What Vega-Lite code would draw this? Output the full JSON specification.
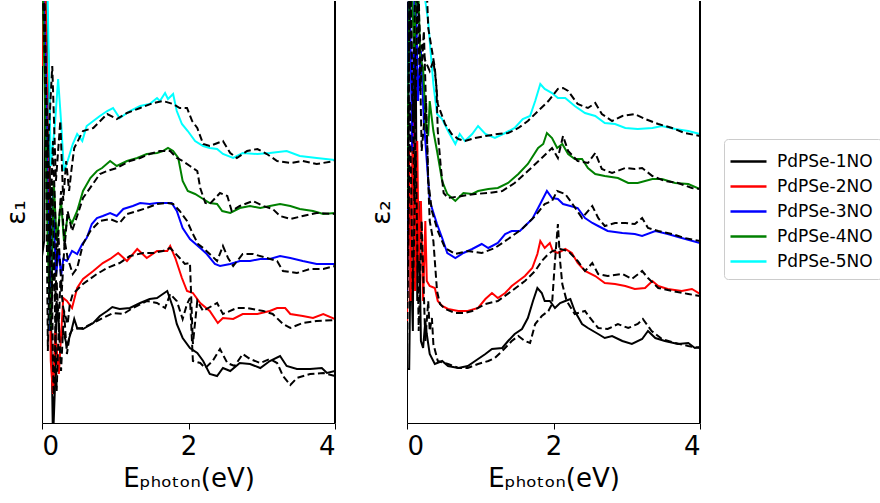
{
"$schema": "https://vega.github.io/schema/vega-lite/v6.json",
"background": "white",
"padding": {"left": 3, "top": 0, "right": 0, "bottom": 0},
"bounds": "flush",
"spacing": 72,
"config": {"font": "DejaVu Sans", "view": {"stroke": null}},
"datasets": {
"d": [
{"p":1,"s":"PdPSe-1NO","k":"s","E":0,"v":167},{"p":1,"s":"PdPSe-1NO","k":"s","E":0.03,"v":182},{"p":1,"s":"PdPSe-1NO","k":"s","E":0.05,"v":472},{"p":1,"s":"PdPSe-1NO","k":"s","E":0.10,"v":322},{"p":1,"s":"PdPSe-1NO","k":"s","E":0.12,"v":122},{"p":1,"s":"PdPSe-1NO","k":"s","E":0.15,"v":-18},{"p":1,"s":"PdPSe-1NO","k":"s","E":0.18,"v":42},{"p":1,"s":"PdPSe-1NO","k":"s","E":0.20,"v":122},{"p":1,"s":"PdPSe-1NO","k":"s","E":0.25,"v":82},{"p":1,"s":"PdPSe-1NO","k":"s","E":0.29,"v":92},{"p":1,"s":"PdPSe-1NO","k":"s","E":0.34,"v":77},{"p":1,"s":"PdPSe-1NO","k":"s","E":0.40,"v":92},{"p":1,"s":"PdPSe-1NO","k":"s","E":0.44,"v":104},{"p":1,"s":"PdPSe-1NO","k":"s","E":0.48,"v":95},{"p":1,"s":"PdPSe-1NO","k":"s","E":0.56,"v":94},{"p":1,"s":"PdPSe-1NO","k":"s","E":0.70,"v":100},{"p":1,"s":"PdPSe-1NO","k":"s","E":0.79,"v":107},{"p":1,"s":"PdPSe-1NO","k":"s","E":0.89,"v":112},{"p":1,"s":"PdPSe-1NO","k":"s","E":0.96,"v":116},{"p":1,"s":"PdPSe-1NO","k":"s","E":1.06,"v":114},{"p":1,"s":"PdPSe-1NO","k":"s","E":1.20,"v":115},{"p":1,"s":"PdPSe-1NO","k":"s","E":1.34,"v":120},{"p":1,"s":"PdPSe-1NO","k":"s","E":1.47,"v":124},{"p":1,"s":"PdPSe-1NO","k":"s","E":1.57,"v":125},{"p":1,"s":"PdPSe-1NO","k":"s","E":1.65,"v":129},{"p":1,"s":"PdPSe-1NO","k":"s","E":1.71,"v":132},{"p":1,"s":"PdPSe-1NO","k":"s","E":1.79,"v":115},{"p":1,"s":"PdPSe-1NO","k":"s","E":1.84,"v":99},{"p":1,"s":"PdPSe-1NO","k":"s","E":1.92,"v":85},{"p":1,"s":"PdPSe-1NO","k":"s","E":2.02,"v":75},{"p":1,"s":"PdPSe-1NO","k":"s","E":2.12,"v":70},{"p":1,"s":"PdPSe-1NO","k":"s","E":2.20,"v":62},{"p":1,"s":"PdPSe-1NO","k":"s","E":2.29,"v":49},{"p":1,"s":"PdPSe-1NO","k":"s","E":2.39,"v":47},{"p":1,"s":"PdPSe-1NO","k":"s","E":2.47,"v":55},{"p":1,"s":"PdPSe-1NO","k":"s","E":2.57,"v":52},{"p":1,"s":"PdPSe-1NO","k":"s","E":2.70,"v":60},{"p":1,"s":"PdPSe-1NO","k":"s","E":2.84,"v":59},{"p":1,"s":"PdPSe-1NO","k":"s","E":2.98,"v":55},{"p":1,"s":"PdPSe-1NO","k":"s","E":3.11,"v":62},{"p":1,"s":"PdPSe-1NO","k":"s","E":3.25,"v":67},{"p":1,"s":"PdPSe-1NO","k":"s","E":3.34,"v":57},{"p":1,"s":"PdPSe-1NO","k":"s","E":3.48,"v":54},{"p":1,"s":"PdPSe-1NO","k":"s","E":3.66,"v":54},{"p":1,"s":"PdPSe-1NO","k":"s","E":3.82,"v":55},{"p":1,"s":"PdPSe-1NO","k":"s","E":3.89,"v":50},{"p":1,"s":"PdPSe-1NO","k":"s","E":4.00,"v":52},

{"p":1,"s":"PdPSe-1NO","k":"d","E":0,"v":472},{"p":1,"s":"PdPSe-1NO","k":"d","E":0.04,"v":402},{"p":1,"s":"PdPSe-1NO","k":"d","E":0.08,"v":72},{"p":1,"s":"PdPSe-1NO","k":"d","E":0.12,"v":222},{"p":1,"s":"PdPSe-1NO","k":"d","E":0.16,"v":12},{"p":1,"s":"PdPSe-1NO","k":"d","E":0.20,"v":142},{"p":1,"s":"PdPSe-1NO","k":"d","E":0.26,"v":52},{"p":1,"s":"PdPSe-1NO","k":"d","E":0.30,"v":112},{"p":1,"s":"PdPSe-1NO","k":"d","E":0.34,"v":69},{"p":1,"s":"PdPSe-1NO","k":"d","E":0.38,"v":89},{"p":1,"s":"PdPSe-1NO","k":"d","E":0.42,"v":94},{"p":1,"s":"PdPSe-1NO","k":"d","E":0.56,"v":95},{"p":1,"s":"PdPSe-1NO","k":"d","E":0.75,"v":102},{"p":1,"s":"PdPSe-1NO","k":"d","E":0.97,"v":110},{"p":1,"s":"PdPSe-1NO","k":"d","E":1.11,"v":109},{"p":1,"s":"PdPSe-1NO","k":"d","E":1.24,"v":115},{"p":1,"s":"PdPSe-1NO","k":"d","E":1.43,"v":122},{"p":1,"s":"PdPSe-1NO","k":"d","E":1.57,"v":120},{"p":1,"s":"PdPSe-1NO","k":"d","E":1.68,"v":115},{"p":1,"s":"PdPSe-1NO","k":"d","E":1.75,"v":129},{"p":1,"s":"PdPSe-1NO","k":"d","E":1.84,"v":122},{"p":1,"s":"PdPSe-1NO","k":"d","E":1.92,"v":104},{"p":1,"s":"PdPSe-1NO","k":"d","E":1.98,"v":119},{"p":1,"s":"PdPSe-1NO","k":"d","E":2.02,"v":125},{"p":1,"s":"PdPSe-1NO","k":"d","E":2.06,"v":62},{"p":1,"s":"PdPSe-1NO","k":"d","E":2.16,"v":60},{"p":1,"s":"PdPSe-1NO","k":"d","E":2.23,"v":55},{"p":1,"s":"PdPSe-1NO","k":"d","E":2.33,"v":62},{"p":1,"s":"PdPSe-1NO","k":"d","E":2.43,"v":74},{"p":1,"s":"PdPSe-1NO","k":"d","E":2.53,"v":60},{"p":1,"s":"PdPSe-1NO","k":"d","E":2.63,"v":57},{"p":1,"s":"PdPSe-1NO","k":"d","E":2.74,"v":69},{"p":1,"s":"PdPSe-1NO","k":"d","E":2.84,"v":64},{"p":1,"s":"PdPSe-1NO","k":"d","E":2.98,"v":60},{"p":1,"s":"PdPSe-1NO","k":"d","E":3.11,"v":64},{"p":1,"s":"PdPSe-1NO","k":"d","E":3.21,"v":60},{"p":1,"s":"PdPSe-1NO","k":"d","E":3.29,"v":47},{"p":1,"s":"PdPSe-1NO","k":"d","E":3.39,"v":38},{"p":1,"s":"PdPSe-1NO","k":"d","E":3.48,"v":45},{"p":1,"s":"PdPSe-1NO","k":"d","E":3.66,"v":49},{"p":1,"s":"PdPSe-1NO","k":"d","E":3.84,"v":50},{"p":1,"s":"PdPSe-1NO","k":"d","E":4.00,"v":47},

{"p":1,"s":"PdPSe-2NO","k":"s","E":0,"v":357},{"p":1,"s":"PdPSe-2NO","k":"s","E":0.04,"v":472},{"p":1,"s":"PdPSe-2NO","k":"s","E":0.08,"v":272},{"p":1,"s":"PdPSe-2NO","k":"s","E":0.12,"v":62},{"p":1,"s":"PdPSe-2NO","k":"s","E":0.15,"v":29},{"p":1,"s":"PdPSe-2NO","k":"s","E":0.18,"v":92},{"p":1,"s":"PdPSe-2NO","k":"s","E":0.20,"v":75},{"p":1,"s":"PdPSe-2NO","k":"s","E":0.23,"v":49},{"p":1,"s":"PdPSe-2NO","k":"s","E":0.29,"v":125},{"p":1,"s":"PdPSe-2NO","k":"s","E":0.34,"v":122},{"p":1,"s":"PdPSe-2NO","k":"s","E":0.41,"v":115},{"p":1,"s":"PdPSe-2NO","k":"s","E":0.48,"v":135},{"p":1,"s":"PdPSe-2NO","k":"s","E":0.56,"v":144},{"p":1,"s":"PdPSe-2NO","k":"s","E":0.70,"v":152},{"p":1,"s":"PdPSe-2NO","k":"s","E":0.83,"v":160},{"p":1,"s":"PdPSe-2NO","k":"s","E":0.93,"v":164},{"p":1,"s":"PdPSe-2NO","k":"s","E":1.04,"v":170},{"p":1,"s":"PdPSe-2NO","k":"s","E":1.16,"v":162},{"p":1,"s":"PdPSe-2NO","k":"s","E":1.30,"v":174},{"p":1,"s":"PdPSe-2NO","k":"s","E":1.43,"v":165},{"p":1,"s":"PdPSe-2NO","k":"s","E":1.57,"v":172},{"p":1,"s":"PdPSe-2NO","k":"s","E":1.71,"v":172},{"p":1,"s":"PdPSe-2NO","k":"s","E":1.75,"v":177},{"p":1,"s":"PdPSe-2NO","k":"s","E":1.82,"v":165},{"p":1,"s":"PdPSe-2NO","k":"s","E":1.91,"v":145},{"p":1,"s":"PdPSe-2NO","k":"s","E":1.98,"v":132},{"p":1,"s":"PdPSe-2NO","k":"s","E":2.06,"v":130},{"p":1,"s":"PdPSe-2NO","k":"s","E":2.16,"v":120},{"p":1,"s":"PdPSe-2NO","k":"s","E":2.29,"v":112},{"p":1,"s":"PdPSe-2NO","k":"s","E":2.40,"v":100},{"p":1,"s":"PdPSe-2NO","k":"s","E":2.47,"v":105},{"p":1,"s":"PdPSe-2NO","k":"s","E":2.61,"v":104},{"p":1,"s":"PdPSe-2NO","k":"s","E":2.74,"v":109},{"p":1,"s":"PdPSe-2NO","k":"s","E":2.94,"v":109},{"p":1,"s":"PdPSe-2NO","k":"s","E":3.11,"v":112},{"p":1,"s":"PdPSe-2NO","k":"s","E":3.21,"v":115},{"p":1,"s":"PdPSe-2NO","k":"s","E":3.32,"v":115},{"p":1,"s":"PdPSe-2NO","k":"s","E":3.39,"v":109},{"p":1,"s":"PdPSe-2NO","k":"s","E":3.56,"v":107},{"p":1,"s":"PdPSe-2NO","k":"s","E":3.70,"v":105},{"p":1,"s":"PdPSe-2NO","k":"s","E":3.84,"v":109},{"p":1,"s":"PdPSe-2NO","k":"s","E":4.00,"v":104},

{"p":1,"s":"PdPSe-2NO","k":"d","E":0,"v":472},{"p":1,"s":"PdPSe-2NO","k":"d","E":0.04,"v":412},{"p":1,"s":"PdPSe-2NO","k":"d","E":0.08,"v":222},{"p":1,"s":"PdPSe-2NO","k":"d","E":0.12,"v":92},{"p":1,"s":"PdPSe-2NO","k":"d","E":0.16,"v":172},{"p":1,"s":"PdPSe-2NO","k":"d","E":0.20,"v":32},{"p":1,"s":"PdPSe-2NO","k":"d","E":0.25,"v":142},{"p":1,"s":"PdPSe-2NO","k":"d","E":0.29,"v":115},{"p":1,"s":"PdPSe-2NO","k":"d","E":0.35,"v":99},{"p":1,"s":"PdPSe-2NO","k":"d","E":0.38,"v":119},{"p":1,"s":"PdPSe-2NO","k":"d","E":0.42,"v":129},{"p":1,"s":"PdPSe-2NO","k":"d","E":0.56,"v":139},{"p":1,"s":"PdPSe-2NO","k":"d","E":0.75,"v":149},{"p":1,"s":"PdPSe-2NO","k":"d","E":0.89,"v":155},{"p":1,"s":"PdPSe-2NO","k":"d","E":1.06,"v":160},{"p":1,"s":"PdPSe-2NO","k":"d","E":1.20,"v":167},{"p":1,"s":"PdPSe-2NO","k":"d","E":1.38,"v":170},{"p":1,"s":"PdPSe-2NO","k":"d","E":1.52,"v":170},{"p":1,"s":"PdPSe-2NO","k":"d","E":1.65,"v":172},{"p":1,"s":"PdPSe-2NO","k":"d","E":1.75,"v":175},{"p":1,"s":"PdPSe-2NO","k":"d","E":1.88,"v":165},{"p":1,"s":"PdPSe-2NO","k":"d","E":1.95,"v":159},{"p":1,"s":"PdPSe-2NO","k":"d","E":2.02,"v":160},{"p":1,"s":"PdPSe-2NO","k":"d","E":2.06,"v":79},{"p":1,"s":"PdPSe-2NO","k":"d","E":2.12,"v":122},{"p":1,"s":"PdPSe-2NO","k":"d","E":2.20,"v":112},{"p":1,"s":"PdPSe-2NO","k":"d","E":2.39,"v":120},{"p":1,"s":"PdPSe-2NO","k":"d","E":2.47,"v":109},{"p":1,"s":"PdPSe-2NO","k":"d","E":2.66,"v":115},{"p":1,"s":"PdPSe-2NO","k":"d","E":2.80,"v":115},{"p":1,"s":"PdPSe-2NO","k":"d","E":3.02,"v":112},{"p":1,"s":"PdPSe-2NO","k":"d","E":3.15,"v":109},{"p":1,"s":"PdPSe-2NO","k":"d","E":3.29,"v":99},{"p":1,"s":"PdPSe-2NO","k":"d","E":3.39,"v":95},{"p":1,"s":"PdPSe-2NO","k":"d","E":3.56,"v":100},{"p":1,"s":"PdPSe-2NO","k":"d","E":3.75,"v":102},{"p":1,"s":"PdPSe-2NO","k":"d","E":4.00,"v":103},

{"p":1,"s":"PdPSe-3NO","k":"s","E":0,"v":472},{"p":1,"s":"PdPSe-3NO","k":"s","E":0.05,"v":362},{"p":1,"s":"PdPSe-3NO","k":"s","E":0.11,"v":92},{"p":1,"s":"PdPSe-3NO","k":"s","E":0.15,"v":232},{"p":1,"s":"PdPSe-3NO","k":"s","E":0.19,"v":147},{"p":1,"s":"PdPSe-3NO","k":"s","E":0.23,"v":172},{"p":1,"s":"PdPSe-3NO","k":"s","E":0.26,"v":147},{"p":1,"s":"PdPSe-3NO","k":"s","E":0.29,"v":164},{"p":1,"s":"PdPSe-3NO","k":"s","E":0.34,"v":162},{"p":1,"s":"PdPSe-3NO","k":"s","E":0.41,"v":172},{"p":1,"s":"PdPSe-3NO","k":"s","E":0.48,"v":169},{"p":1,"s":"PdPSe-3NO","k":"s","E":0.55,"v":179},{"p":1,"s":"PdPSe-3NO","k":"s","E":0.61,"v":185},{"p":1,"s":"PdPSe-3NO","k":"s","E":0.68,"v":199},{"p":1,"s":"PdPSe-3NO","k":"s","E":0.75,"v":205},{"p":1,"s":"PdPSe-3NO","k":"s","E":0.83,"v":207},{"p":1,"s":"PdPSe-3NO","k":"s","E":0.93,"v":210},{"p":1,"s":"PdPSe-3NO","k":"s","E":1.02,"v":207},{"p":1,"s":"PdPSe-3NO","k":"s","E":1.11,"v":214},{"p":1,"s":"PdPSe-3NO","k":"s","E":1.24,"v":217},{"p":1,"s":"PdPSe-3NO","k":"s","E":1.34,"v":220},{"p":1,"s":"PdPSe-3NO","k":"s","E":1.47,"v":219},{"p":1,"s":"PdPSe-3NO","k":"s","E":1.57,"v":220},{"p":1,"s":"PdPSe-3NO","k":"s","E":1.65,"v":220},{"p":1,"s":"PdPSe-3NO","k":"s","E":1.77,"v":220},{"p":1,"s":"PdPSe-3NO","k":"s","E":1.84,"v":212},{"p":1,"s":"PdPSe-3NO","k":"s","E":1.92,"v":195},{"p":1,"s":"PdPSe-3NO","k":"s","E":2.02,"v":184},{"p":1,"s":"PdPSe-3NO","k":"s","E":2.16,"v":175},{"p":1,"s":"PdPSe-3NO","k":"s","E":2.25,"v":169},{"p":1,"s":"PdPSe-3NO","k":"s","E":2.36,"v":159},{"p":1,"s":"PdPSe-3NO","k":"s","E":2.43,"v":157},{"p":1,"s":"PdPSe-3NO","k":"s","E":2.57,"v":159},{"p":1,"s":"PdPSe-3NO","k":"s","E":2.70,"v":162},{"p":1,"s":"PdPSe-3NO","k":"s","E":2.84,"v":162},{"p":1,"s":"PdPSe-3NO","k":"s","E":2.98,"v":164},{"p":1,"s":"PdPSe-3NO","k":"s","E":3.11,"v":164},{"p":1,"s":"PdPSe-3NO","k":"s","E":3.25,"v":167},{"p":1,"s":"PdPSe-3NO","k":"s","E":3.39,"v":165},{"p":1,"s":"PdPSe-3NO","k":"s","E":3.56,"v":162},{"p":1,"s":"PdPSe-3NO","k":"s","E":3.75,"v":159},{"p":1,"s":"PdPSe-3NO","k":"s","E":4.00,"v":159},

{"p":1,"s":"PdPSe-3NO","k":"d","E":0,"v":472},{"p":1,"s":"PdPSe-3NO","k":"d","E":0.04,"v":372},{"p":1,"s":"PdPSe-3NO","k":"d","E":0.10,"v":172},{"p":1,"s":"PdPSe-3NO","k":"d","E":0.14,"v":242},{"p":1,"s":"PdPSe-3NO","k":"d","E":0.18,"v":122},{"p":1,"s":"PdPSe-3NO","k":"d","E":0.22,"v":192},{"p":1,"s":"PdPSe-3NO","k":"d","E":0.27,"v":132},{"p":1,"s":"PdPSe-3NO","k":"d","E":0.31,"v":182},{"p":1,"s":"PdPSe-3NO","k":"d","E":0.35,"v":165},{"p":1,"s":"PdPSe-3NO","k":"d","E":0.42,"v":149},{"p":1,"s":"PdPSe-3NO","k":"d","E":0.48,"v":155},{"p":1,"s":"PdPSe-3NO","k":"d","E":0.56,"v":179},{"p":1,"s":"PdPSe-3NO","k":"d","E":0.66,"v":192},{"p":1,"s":"PdPSe-3NO","k":"d","E":0.79,"v":202},{"p":1,"s":"PdPSe-3NO","k":"d","E":0.93,"v":204},{"p":1,"s":"PdPSe-3NO","k":"d","E":1.06,"v":200},{"p":1,"s":"PdPSe-3NO","k":"d","E":1.16,"v":209},{"p":1,"s":"PdPSe-3NO","k":"d","E":1.30,"v":212},{"p":1,"s":"PdPSe-3NO","k":"d","E":1.43,"v":215},{"p":1,"s":"PdPSe-3NO","k":"d","E":1.57,"v":219},{"p":1,"s":"PdPSe-3NO","k":"d","E":1.71,"v":220},{"p":1,"s":"PdPSe-3NO","k":"d","E":1.79,"v":219},{"p":1,"s":"PdPSe-3NO","k":"d","E":1.88,"v":212},{"p":1,"s":"PdPSe-3NO","k":"d","E":1.98,"v":202},{"p":1,"s":"PdPSe-3NO","k":"d","E":2.06,"v":189},{"p":1,"s":"PdPSe-3NO","k":"d","E":2.13,"v":179},{"p":1,"s":"PdPSe-3NO","k":"d","E":2.20,"v":175},{"p":1,"s":"PdPSe-3NO","k":"d","E":2.29,"v":169},{"p":1,"s":"PdPSe-3NO","k":"d","E":2.39,"v":162},{"p":1,"s":"PdPSe-3NO","k":"d","E":2.47,"v":177},{"p":1,"s":"PdPSe-3NO","k":"d","E":2.54,"v":165},{"p":1,"s":"PdPSe-3NO","k":"d","E":2.61,"v":157},{"p":1,"s":"PdPSe-3NO","k":"d","E":2.74,"v":169},{"p":1,"s":"PdPSe-3NO","k":"d","E":2.88,"v":169},{"p":1,"s":"PdPSe-3NO","k":"d","E":3.07,"v":165},{"p":1,"s":"PdPSe-3NO","k":"d","E":3.21,"v":162},{"p":1,"s":"PdPSe-3NO","k":"d","E":3.29,"v":152},{"p":1,"s":"PdPSe-3NO","k":"d","E":3.48,"v":150},{"p":1,"s":"PdPSe-3NO","k":"d","E":3.66,"v":154},{"p":1,"s":"PdPSe-3NO","k":"d","E":3.84,"v":154},{"p":1,"s":"PdPSe-3NO","k":"d","E":4.00,"v":157},

{"p":1,"s":"PdPSe-4NO","k":"s","E":0,"v":472},{"p":1,"s":"PdPSe-4NO","k":"s","E":0.04,"v":322},{"p":1,"s":"PdPSe-4NO","k":"s","E":0.08,"v":172},{"p":1,"s":"PdPSe-4NO","k":"s","E":0.12,"v":92},{"p":1,"s":"PdPSe-4NO","k":"s","E":0.16,"v":242},{"p":1,"s":"PdPSe-4NO","k":"s","E":0.20,"v":182},{"p":1,"s":"PdPSe-4NO","k":"s","E":0.26,"v":222},{"p":1,"s":"PdPSe-4NO","k":"s","E":0.30,"v":182},{"p":1,"s":"PdPSe-4NO","k":"s","E":0.35,"v":207},{"p":1,"s":"PdPSe-4NO","k":"s","E":0.41,"v":200},{"p":1,"s":"PdPSe-4NO","k":"s","E":0.48,"v":212},{"p":1,"s":"PdPSe-4NO","k":"s","E":0.56,"v":232},{"p":1,"s":"PdPSe-4NO","k":"s","E":0.66,"v":245},{"p":1,"s":"PdPSe-4NO","k":"s","E":0.75,"v":252},{"p":1,"s":"PdPSe-4NO","k":"s","E":0.82,"v":255},{"p":1,"s":"PdPSe-4NO","k":"s","E":0.93,"v":262},{"p":1,"s":"PdPSe-4NO","k":"s","E":1.02,"v":257},{"p":1,"s":"PdPSe-4NO","k":"s","E":1.16,"v":262},{"p":1,"s":"PdPSe-4NO","k":"s","E":1.30,"v":265},{"p":1,"s":"PdPSe-4NO","k":"s","E":1.43,"v":269},{"p":1,"s":"PdPSe-4NO","k":"s","E":1.57,"v":270},{"p":1,"s":"PdPSe-4NO","k":"s","E":1.65,"v":272},{"p":1,"s":"PdPSe-4NO","k":"s","E":1.72,"v":275},{"p":1,"s":"PdPSe-4NO","k":"s","E":1.79,"v":272},{"p":1,"s":"PdPSe-4NO","k":"s","E":1.86,"v":265},{"p":1,"s":"PdPSe-4NO","k":"s","E":1.92,"v":242},{"p":1,"s":"PdPSe-4NO","k":"s","E":1.99,"v":232},{"p":1,"s":"PdPSe-4NO","k":"s","E":2.09,"v":229},{"p":1,"s":"PdPSe-4NO","k":"s","E":2.20,"v":224},{"p":1,"s":"PdPSe-4NO","k":"s","E":2.29,"v":220},{"p":1,"s":"PdPSe-4NO","k":"s","E":2.39,"v":219},{"p":1,"s":"PdPSe-4NO","k":"s","E":2.46,"v":212},{"p":1,"s":"PdPSe-4NO","k":"s","E":2.57,"v":210},{"p":1,"s":"PdPSe-4NO","k":"s","E":2.70,"v":215},{"p":1,"s":"PdPSe-4NO","k":"s","E":2.84,"v":217},{"p":1,"s":"PdPSe-4NO","k":"s","E":2.98,"v":215},{"p":1,"s":"PdPSe-4NO","k":"s","E":3.11,"v":217},{"p":1,"s":"PdPSe-4NO","k":"s","E":3.25,"v":219},{"p":1,"s":"PdPSe-4NO","k":"s","E":3.39,"v":217},{"p":1,"s":"PdPSe-4NO","k":"s","E":3.52,"v":214},{"p":1,"s":"PdPSe-4NO","k":"s","E":3.70,"v":212},{"p":1,"s":"PdPSe-4NO","k":"s","E":3.84,"v":209},{"p":1,"s":"PdPSe-4NO","k":"s","E":4.00,"v":210},

{"p":1,"s":"PdPSe-4NO","k":"d","E":0,"v":472},{"p":1,"s":"PdPSe-4NO","k":"d","E":0.05,"v":342},{"p":1,"s":"PdPSe-4NO","k":"d","E":0.11,"v":192},{"p":1,"s":"PdPSe-4NO","k":"d","E":0.15,"v":282},{"p":1,"s":"PdPSe-4NO","k":"d","E":0.20,"v":162},{"p":1,"s":"PdPSe-4NO","k":"d","E":0.26,"v":232},{"p":1,"s":"PdPSe-4NO","k":"d","E":0.31,"v":177},{"p":1,"s":"PdPSe-4NO","k":"d","E":0.35,"v":212},{"p":1,"s":"PdPSe-4NO","k":"d","E":0.41,"v":192},{"p":1,"s":"PdPSe-4NO","k":"d","E":0.48,"v":207},{"p":1,"s":"PdPSe-4NO","k":"d","E":0.56,"v":225},{"p":1,"s":"PdPSe-4NO","k":"d","E":0.79,"v":249},{"p":1,"s":"PdPSe-4NO","k":"d","E":0.89,"v":252},{"p":1,"s":"PdPSe-4NO","k":"d","E":1.02,"v":255},{"p":1,"s":"PdPSe-4NO","k":"d","E":1.20,"v":262},{"p":1,"s":"PdPSe-4NO","k":"d","E":1.34,"v":265},{"p":1,"s":"PdPSe-4NO","k":"d","E":1.47,"v":269},{"p":1,"s":"PdPSe-4NO","k":"d","E":1.61,"v":272},{"p":1,"s":"PdPSe-4NO","k":"d","E":1.75,"v":272},{"p":1,"s":"PdPSe-4NO","k":"d","E":1.84,"v":265},{"p":1,"s":"PdPSe-4NO","k":"d","E":1.92,"v":262},{"p":1,"s":"PdPSe-4NO","k":"d","E":2.02,"v":257},{"p":1,"s":"PdPSe-4NO","k":"d","E":2.12,"v":252},{"p":1,"s":"PdPSe-4NO","k":"d","E":2.16,"v":235},{"p":1,"s":"PdPSe-4NO","k":"d","E":2.23,"v":220},{"p":1,"s":"PdPSe-4NO","k":"d","E":2.29,"v":219},{"p":1,"s":"PdPSe-4NO","k":"d","E":2.43,"v":230},{"p":1,"s":"PdPSe-4NO","k":"d","E":2.53,"v":227},{"p":1,"s":"PdPSe-4NO","k":"d","E":2.59,"v":212},{"p":1,"s":"PdPSe-4NO","k":"d","E":2.70,"v":217},{"p":1,"s":"PdPSe-4NO","k":"d","E":2.88,"v":222},{"p":1,"s":"PdPSe-4NO","k":"d","E":3.02,"v":217},{"p":1,"s":"PdPSe-4NO","k":"d","E":3.15,"v":214},{"p":1,"s":"PdPSe-4NO","k":"d","E":3.25,"v":207},{"p":1,"s":"PdPSe-4NO","k":"d","E":3.39,"v":204},{"p":1,"s":"PdPSe-4NO","k":"d","E":3.56,"v":207},{"p":1,"s":"PdPSe-4NO","k":"d","E":3.75,"v":210},{"p":1,"s":"PdPSe-4NO","k":"d","E":4.00,"v":209},

{"p":1,"s":"PdPSe-5NO","k":"s","E":0,"v":472},{"p":1,"s":"PdPSe-5NO","k":"s","E":0.07,"v":452},{"p":1,"s":"PdPSe-5NO","k":"s","E":0.12,"v":257},{"p":1,"s":"PdPSe-5NO","k":"s","E":0.18,"v":302},{"p":1,"s":"PdPSe-5NO","k":"s","E":0.22,"v":344},{"p":1,"s":"PdPSe-5NO","k":"s","E":0.26,"v":302},{"p":1,"s":"PdPSe-5NO","k":"s","E":0.30,"v":252},{"p":1,"s":"PdPSe-5NO","k":"s","E":0.35,"v":262},{"p":1,"s":"PdPSe-5NO","k":"s","E":0.42,"v":279},{"p":1,"s":"PdPSe-5NO","k":"s","E":0.48,"v":289},{"p":1,"s":"PdPSe-5NO","k":"s","E":0.55,"v":282},{"p":1,"s":"PdPSe-5NO","k":"s","E":0.61,"v":297},{"p":1,"s":"PdPSe-5NO","k":"s","E":0.70,"v":302},{"p":1,"s":"PdPSe-5NO","k":"s","E":0.79,"v":307},{"p":1,"s":"PdPSe-5NO","k":"s","E":0.89,"v":312},{"p":1,"s":"PdPSe-5NO","k":"s","E":0.97,"v":315},{"p":1,"s":"PdPSe-5NO","k":"s","E":1.06,"v":305},{"p":1,"s":"PdPSe-5NO","k":"s","E":1.20,"v":312},{"p":1,"s":"PdPSe-5NO","k":"s","E":1.34,"v":317},{"p":1,"s":"PdPSe-5NO","k":"s","E":1.47,"v":319},{"p":1,"s":"PdPSe-5NO","k":"s","E":1.57,"v":325},{"p":1,"s":"PdPSe-5NO","k":"s","E":1.61,"v":322},{"p":1,"s":"PdPSe-5NO","k":"s","E":1.68,"v":330},{"p":1,"s":"PdPSe-5NO","k":"s","E":1.72,"v":324},{"p":1,"s":"PdPSe-5NO","k":"s","E":1.79,"v":329},{"p":1,"s":"PdPSe-5NO","k":"s","E":1.84,"v":312},{"p":1,"s":"PdPSe-5NO","k":"s","E":1.91,"v":299},{"p":1,"s":"PdPSe-5NO","k":"s","E":1.99,"v":292},{"p":1,"s":"PdPSe-5NO","k":"s","E":2.09,"v":282},{"p":1,"s":"PdPSe-5NO","k":"s","E":2.20,"v":277},{"p":1,"s":"PdPSe-5NO","k":"s","E":2.29,"v":275},{"p":1,"s":"PdPSe-5NO","k":"s","E":2.39,"v":274},{"p":1,"s":"PdPSe-5NO","k":"s","E":2.47,"v":269},{"p":1,"s":"PdPSe-5NO","k":"s","E":2.61,"v":265},{"p":1,"s":"PdPSe-5NO","k":"s","E":2.74,"v":270},{"p":1,"s":"PdPSe-5NO","k":"s","E":2.94,"v":269},{"p":1,"s":"PdPSe-5NO","k":"s","E":3.11,"v":270},{"p":1,"s":"PdPSe-5NO","k":"s","E":3.34,"v":272},{"p":1,"s":"PdPSe-5NO","k":"s","E":3.52,"v":267},{"p":1,"s":"PdPSe-5NO","k":"s","E":3.75,"v":265},{"p":1,"s":"PdPSe-5NO","k":"s","E":4.00,"v":263},

{"p":1,"s":"PdPSe-5NO","k":"d","E":0,"v":472},{"p":1,"s":"PdPSe-5NO","k":"d","E":0.04,"v":362},{"p":1,"s":"PdPSe-5NO","k":"d","E":0.08,"v":272},{"p":1,"s":"PdPSe-5NO","k":"d","E":0.14,"v":357},{"p":1,"s":"PdPSe-5NO","k":"d","E":0.19,"v":242},{"p":1,"s":"PdPSe-5NO","k":"d","E":0.25,"v":302},{"p":1,"s":"PdPSe-5NO","k":"d","E":0.29,"v":222},{"p":1,"s":"PdPSe-5NO","k":"d","E":0.33,"v":262},{"p":1,"s":"PdPSe-5NO","k":"d","E":0.37,"v":232},{"p":1,"s":"PdPSe-5NO","k":"d","E":0.40,"v":252},{"p":1,"s":"PdPSe-5NO","k":"d","E":0.44,"v":275},{"p":1,"s":"PdPSe-5NO","k":"d","E":0.56,"v":292},{"p":1,"s":"PdPSe-5NO","k":"d","E":0.70,"v":295},{"p":1,"s":"PdPSe-5NO","k":"d","E":0.89,"v":309},{"p":1,"s":"PdPSe-5NO","k":"d","E":1.02,"v":304},{"p":1,"s":"PdPSe-5NO","k":"d","E":1.16,"v":310},{"p":1,"s":"PdPSe-5NO","k":"d","E":1.34,"v":315},{"p":1,"s":"PdPSe-5NO","k":"d","E":1.52,"v":320},{"p":1,"s":"PdPSe-5NO","k":"d","E":1.65,"v":322},{"p":1,"s":"PdPSe-5NO","k":"d","E":1.79,"v":319},{"p":1,"s":"PdPSe-5NO","k":"d","E":1.88,"v":315},{"p":1,"s":"PdPSe-5NO","k":"d","E":1.98,"v":315},{"p":1,"s":"PdPSe-5NO","k":"d","E":2.05,"v":302},{"p":1,"s":"PdPSe-5NO","k":"d","E":2.12,"v":295},{"p":1,"s":"PdPSe-5NO","k":"d","E":2.20,"v":279},{"p":1,"s":"PdPSe-5NO","k":"d","E":2.29,"v":277},{"p":1,"s":"PdPSe-5NO","k":"d","E":2.47,"v":282},{"p":1,"s":"PdPSe-5NO","k":"d","E":2.57,"v":270},{"p":1,"s":"PdPSe-5NO","k":"d","E":2.66,"v":265},{"p":1,"s":"PdPSe-5NO","k":"d","E":2.80,"v":272},{"p":1,"s":"PdPSe-5NO","k":"d","E":2.94,"v":274},{"p":1,"s":"PdPSe-5NO","k":"d","E":3.07,"v":269},{"p":1,"s":"PdPSe-5NO","k":"d","E":3.21,"v":262},{"p":1,"s":"PdPSe-5NO","k":"d","E":3.39,"v":260},{"p":1,"s":"PdPSe-5NO","k":"d","E":3.56,"v":262},{"p":1,"s":"PdPSe-5NO","k":"d","E":3.75,"v":259},{"p":1,"s":"PdPSe-5NO","k":"d","E":4.00,"v":262},

{"p":2,"s":"PdPSe-1NO","k":"s","E":0,"v":54},{"p":2,"s":"PdPSe-1NO","k":"s","E":0.03,"v":54},{"p":2,"s":"PdPSe-1NO","k":"s","E":0.05,"v":172},{"p":2,"s":"PdPSe-1NO","k":"s","E":0.08,"v":92},{"p":2,"s":"PdPSe-1NO","k":"s","E":0.11,"v":472},{"p":2,"s":"PdPSe-1NO","k":"s","E":0.14,"v":122},{"p":2,"s":"PdPSe-1NO","k":"s","E":0.16,"v":222},{"p":2,"s":"PdPSe-1NO","k":"s","E":0.19,"v":82},{"p":2,"s":"PdPSe-1NO","k":"s","E":0.22,"v":75},{"p":2,"s":"PdPSe-1NO","k":"s","E":0.25,"v":102},{"p":2,"s":"PdPSe-1NO","k":"s","E":0.27,"v":89},{"p":2,"s":"PdPSe-1NO","k":"s","E":0.31,"v":69},{"p":2,"s":"PdPSe-1NO","k":"s","E":0.38,"v":59},{"p":2,"s":"PdPSe-1NO","k":"s","E":0.48,"v":62},{"p":2,"s":"PdPSe-1NO","k":"s","E":0.56,"v":57},{"p":2,"s":"PdPSe-1NO","k":"s","E":0.70,"v":55},{"p":2,"s":"PdPSe-1NO","k":"s","E":0.83,"v":57},{"p":2,"s":"PdPSe-1NO","k":"s","E":0.93,"v":62},{"p":2,"s":"PdPSe-1NO","k":"s","E":1.07,"v":69},{"p":2,"s":"PdPSe-1NO","k":"s","E":1.16,"v":74},{"p":2,"s":"PdPSe-1NO","k":"s","E":1.30,"v":75},{"p":2,"s":"PdPSe-1NO","k":"s","E":1.38,"v":82},{"p":2,"s":"PdPSe-1NO","k":"s","E":1.47,"v":89},{"p":2,"s":"PdPSe-1NO","k":"s","E":1.57,"v":94},{"p":2,"s":"PdPSe-1NO","k":"s","E":1.65,"v":105},{"p":2,"s":"PdPSe-1NO","k":"s","E":1.72,"v":122},{"p":2,"s":"PdPSe-1NO","k":"s","E":1.78,"v":135},{"p":2,"s":"PdPSe-1NO","k":"s","E":1.84,"v":130},{"p":2,"s":"PdPSe-1NO","k":"s","E":1.88,"v":122},{"p":2,"s":"PdPSe-1NO","k":"s","E":1.95,"v":122},{"p":2,"s":"PdPSe-1NO","k":"s","E":2.02,"v":115},{"p":2,"s":"PdPSe-1NO","k":"s","E":2.09,"v":120},{"p":2,"s":"PdPSe-1NO","k":"s","E":2.16,"v":122},{"p":2,"s":"PdPSe-1NO","k":"s","E":2.23,"v":124},{"p":2,"s":"PdPSe-1NO","k":"s","E":2.29,"v":112},{"p":2,"s":"PdPSe-1NO","k":"s","E":2.39,"v":99},{"p":2,"s":"PdPSe-1NO","k":"s","E":2.47,"v":95},{"p":2,"s":"PdPSe-1NO","k":"s","E":2.61,"v":89},{"p":2,"s":"PdPSe-1NO","k":"s","E":2.70,"v":85},{"p":2,"s":"PdPSe-1NO","k":"s","E":2.80,"v":87},{"p":2,"s":"PdPSe-1NO","k":"s","E":2.94,"v":82},{"p":2,"s":"PdPSe-1NO","k":"s","E":3.07,"v":79},{"p":2,"s":"PdPSe-1NO","k":"s","E":3.21,"v":84},{"p":2,"s":"PdPSe-1NO","k":"s","E":3.29,"v":92},{"p":2,"s":"PdPSe-1NO","k":"s","E":3.39,"v":85},{"p":2,"s":"PdPSe-1NO","k":"s","E":3.52,"v":82},{"p":2,"s":"PdPSe-1NO","k":"s","E":3.70,"v":79},{"p":2,"s":"PdPSe-1NO","k":"s","E":3.84,"v":80},{"p":2,"s":"PdPSe-1NO","k":"s","E":3.93,"v":75},{"p":2,"s":"PdPSe-1NO","k":"s","E":4.00,"v":76},

{"p":2,"s":"PdPSe-1NO","k":"d","E":0,"v":62},{"p":2,"s":"PdPSe-1NO","k":"d","E":0.04,"v":322},{"p":2,"s":"PdPSe-1NO","k":"d","E":0.08,"v":122},{"p":2,"s":"PdPSe-1NO","k":"d","E":0.12,"v":272},{"p":2,"s":"PdPSe-1NO","k":"d","E":0.16,"v":92},{"p":2,"s":"PdPSe-1NO","k":"d","E":0.20,"v":202},{"p":2,"s":"PdPSe-1NO","k":"d","E":0.25,"v":82},{"p":2,"s":"PdPSe-1NO","k":"d","E":0.29,"v":122},{"p":2,"s":"PdPSe-1NO","k":"d","E":0.31,"v":92},{"p":2,"s":"PdPSe-1NO","k":"d","E":0.34,"v":105},{"p":2,"s":"PdPSe-1NO","k":"d","E":0.36,"v":79},{"p":2,"s":"PdPSe-1NO","k":"d","E":0.42,"v":62},{"p":2,"s":"PdPSe-1NO","k":"d","E":0.56,"v":59},{"p":2,"s":"PdPSe-1NO","k":"d","E":0.70,"v":55},{"p":2,"s":"PdPSe-1NO","k":"d","E":0.83,"v":55},{"p":2,"s":"PdPSe-1NO","k":"d","E":0.97,"v":59},{"p":2,"s":"PdPSe-1NO","k":"d","E":1.11,"v":62},{"p":2,"s":"PdPSe-1NO","k":"d","E":1.20,"v":65},{"p":2,"s":"PdPSe-1NO","k":"d","E":1.30,"v":72},{"p":2,"s":"PdPSe-1NO","k":"d","E":1.43,"v":82},{"p":2,"s":"PdPSe-1NO","k":"d","E":1.52,"v":87},{"p":2,"s":"PdPSe-1NO","k":"d","E":1.61,"v":82},{"p":2,"s":"PdPSe-1NO","k":"d","E":1.68,"v":80},{"p":2,"s":"PdPSe-1NO","k":"d","E":1.75,"v":99},{"p":2,"s":"PdPSe-1NO","k":"d","E":1.84,"v":107},{"p":2,"s":"PdPSe-1NO","k":"d","E":1.93,"v":112},{"p":2,"s":"PdPSe-1NO","k":"d","E":1.98,"v":119},{"p":2,"s":"PdPSe-1NO","k":"d","E":2.02,"v":162},{"p":2,"s":"PdPSe-1NO","k":"d","E":2.06,"v":199},{"p":2,"s":"PdPSe-1NO","k":"d","E":2.09,"v":162},{"p":2,"s":"PdPSe-1NO","k":"d","E":2.12,"v":139},{"p":2,"s":"PdPSe-1NO","k":"d","E":2.18,"v":122},{"p":2,"s":"PdPSe-1NO","k":"d","E":2.29,"v":109},{"p":2,"s":"PdPSe-1NO","k":"d","E":2.43,"v":112},{"p":2,"s":"PdPSe-1NO","k":"d","E":2.50,"v":105},{"p":2,"s":"PdPSe-1NO","k":"d","E":2.61,"v":95},{"p":2,"s":"PdPSe-1NO","k":"d","E":2.74,"v":94},{"p":2,"s":"PdPSe-1NO","k":"d","E":2.88,"v":99},{"p":2,"s":"PdPSe-1NO","k":"d","E":3.02,"v":95},{"p":2,"s":"PdPSe-1NO","k":"d","E":3.15,"v":99},{"p":2,"s":"PdPSe-1NO","k":"d","E":3.22,"v":104},{"p":2,"s":"PdPSe-1NO","k":"d","E":3.34,"v":92},{"p":2,"s":"PdPSe-1NO","k":"d","E":3.48,"v":84},{"p":2,"s":"PdPSe-1NO","k":"d","E":3.66,"v":80},{"p":2,"s":"PdPSe-1NO","k":"d","E":3.84,"v":77},{"p":2,"s":"PdPSe-1NO","k":"d","E":4.00,"v":75},

{"p":2,"s":"PdPSe-2NO","k":"s","E":0,"v":102},{"p":2,"s":"PdPSe-2NO","k":"s","E":0.03,"v":272},{"p":2,"s":"PdPSe-2NO","k":"s","E":0.05,"v":122},{"p":2,"s":"PdPSe-2NO","k":"s","E":0.08,"v":322},{"p":2,"s":"PdPSe-2NO","k":"s","E":0.11,"v":132},{"p":2,"s":"PdPSe-2NO","k":"s","E":0.14,"v":282},{"p":2,"s":"PdPSe-2NO","k":"s","E":0.16,"v":162},{"p":2,"s":"PdPSe-2NO","k":"s","E":0.19,"v":222},{"p":2,"s":"PdPSe-2NO","k":"s","E":0.22,"v":122},{"p":2,"s":"PdPSe-2NO","k":"s","E":0.25,"v":202},{"p":2,"s":"PdPSe-2NO","k":"s","E":0.27,"v":142},{"p":2,"s":"PdPSe-2NO","k":"s","E":0.31,"v":137},{"p":2,"s":"PdPSe-2NO","k":"s","E":0.38,"v":135},{"p":2,"s":"PdPSe-2NO","k":"s","E":0.42,"v":122},{"p":2,"s":"PdPSe-2NO","k":"s","E":0.48,"v":117},{"p":2,"s":"PdPSe-2NO","k":"s","E":0.56,"v":114},{"p":2,"s":"PdPSe-2NO","k":"s","E":0.70,"v":112},{"p":2,"s":"PdPSe-2NO","k":"s","E":0.83,"v":112},{"p":2,"s":"PdPSe-2NO","k":"s","E":0.97,"v":115},{"p":2,"s":"PdPSe-2NO","k":"s","E":1.07,"v":124},{"p":2,"s":"PdPSe-2NO","k":"s","E":1.16,"v":130},{"p":2,"s":"PdPSe-2NO","k":"s","E":1.24,"v":125},{"p":2,"s":"PdPSe-2NO","k":"s","E":1.34,"v":130},{"p":2,"s":"PdPSe-2NO","k":"s","E":1.43,"v":137},{"p":2,"s":"PdPSe-2NO","k":"s","E":1.52,"v":142},{"p":2,"s":"PdPSe-2NO","k":"s","E":1.61,"v":147},{"p":2,"s":"PdPSe-2NO","k":"s","E":1.71,"v":155},{"p":2,"s":"PdPSe-2NO","k":"s","E":1.78,"v":169},{"p":2,"s":"PdPSe-2NO","k":"s","E":1.82,"v":182},{"p":2,"s":"PdPSe-2NO","k":"s","E":1.88,"v":175},{"p":2,"s":"PdPSe-2NO","k":"s","E":1.95,"v":180},{"p":2,"s":"PdPSe-2NO","k":"s","E":1.99,"v":172},{"p":2,"s":"PdPSe-2NO","k":"s","E":2.06,"v":170},{"p":2,"s":"PdPSe-2NO","k":"s","E":2.16,"v":174},{"p":2,"s":"PdPSe-2NO","k":"s","E":2.25,"v":170},{"p":2,"s":"PdPSe-2NO","k":"s","E":2.33,"v":160},{"p":2,"s":"PdPSe-2NO","k":"s","E":2.43,"v":152},{"p":2,"s":"PdPSe-2NO","k":"s","E":2.57,"v":147},{"p":2,"s":"PdPSe-2NO","k":"s","E":2.70,"v":140},{"p":2,"s":"PdPSe-2NO","k":"s","E":2.84,"v":139},{"p":2,"s":"PdPSe-2NO","k":"s","E":2.98,"v":137},{"p":2,"s":"PdPSe-2NO","k":"s","E":3.11,"v":134},{"p":2,"s":"PdPSe-2NO","k":"s","E":3.25,"v":135},{"p":2,"s":"PdPSe-2NO","k":"s","E":3.35,"v":142},{"p":2,"s":"PdPSe-2NO","k":"s","E":3.43,"v":137},{"p":2,"s":"PdPSe-2NO","k":"s","E":3.56,"v":134},{"p":2,"s":"PdPSe-2NO","k":"s","E":3.75,"v":132},{"p":2,"s":"PdPSe-2NO","k":"s","E":3.89,"v":134},{"p":2,"s":"PdPSe-2NO","k":"s","E":4.00,"v":129},

{"p":2,"s":"PdPSe-2NO","k":"d","E":0,"v":122},{"p":2,"s":"PdPSe-2NO","k":"d","E":0.04,"v":472},{"p":2,"s":"PdPSe-2NO","k":"d","E":0.10,"v":222},{"p":2,"s":"PdPSe-2NO","k":"d","E":0.15,"v":472},{"p":2,"s":"PdPSe-2NO","k":"d","E":0.20,"v":272},{"p":2,"s":"PdPSe-2NO","k":"d","E":0.26,"v":322},{"p":2,"s":"PdPSe-2NO","k":"d","E":0.29,"v":242},{"p":2,"s":"PdPSe-2NO","k":"d","E":0.31,"v":202},{"p":2,"s":"PdPSe-2NO","k":"d","E":0.36,"v":182},{"p":2,"s":"PdPSe-2NO","k":"d","E":0.41,"v":132},{"p":2,"s":"PdPSe-2NO","k":"d","E":0.45,"v":119},{"p":2,"s":"PdPSe-2NO","k":"d","E":0.52,"v":114},{"p":2,"s":"PdPSe-2NO","k":"d","E":0.66,"v":110},{"p":2,"s":"PdPSe-2NO","k":"d","E":0.79,"v":110},{"p":2,"s":"PdPSe-2NO","k":"d","E":0.89,"v":112},{"p":2,"s":"PdPSe-2NO","k":"d","E":1.07,"v":119},{"p":2,"s":"PdPSe-2NO","k":"d","E":1.24,"v":122},{"p":2,"s":"PdPSe-2NO","k":"d","E":1.43,"v":132},{"p":2,"s":"PdPSe-2NO","k":"d","E":1.61,"v":142},{"p":2,"s":"PdPSe-2NO","k":"d","E":1.75,"v":152},{"p":2,"s":"PdPSe-2NO","k":"d","E":1.84,"v":162},{"p":2,"s":"PdPSe-2NO","k":"d","E":1.93,"v":169},{"p":2,"s":"PdPSe-2NO","k":"d","E":1.99,"v":172},{"p":2,"s":"PdPSe-2NO","k":"d","E":2.09,"v":174},{"p":2,"s":"PdPSe-2NO","k":"d","E":2.20,"v":172},{"p":2,"s":"PdPSe-2NO","k":"d","E":2.33,"v":162},{"p":2,"s":"PdPSe-2NO","k":"d","E":2.43,"v":152},{"p":2,"s":"PdPSe-2NO","k":"d","E":2.53,"v":160},{"p":2,"s":"PdPSe-2NO","k":"d","E":2.61,"v":149},{"p":2,"s":"PdPSe-2NO","k":"d","E":2.74,"v":147},{"p":2,"s":"PdPSe-2NO","k":"d","E":2.94,"v":149},{"p":2,"s":"PdPSe-2NO","k":"d","E":3.07,"v":144},{"p":2,"s":"PdPSe-2NO","k":"d","E":3.21,"v":152},{"p":2,"s":"PdPSe-2NO","k":"d","E":3.29,"v":145},{"p":2,"s":"PdPSe-2NO","k":"d","E":3.43,"v":135},{"p":2,"s":"PdPSe-2NO","k":"d","E":3.62,"v":132},{"p":2,"s":"PdPSe-2NO","k":"d","E":3.84,"v":129},{"p":2,"s":"PdPSe-2NO","k":"d","E":4.00,"v":127},

{"p":2,"s":"PdPSe-3NO","k":"s","E":0,"v":122},{"p":2,"s":"PdPSe-3NO","k":"s","E":0.03,"v":472},{"p":2,"s":"PdPSe-3NO","k":"s","E":0.07,"v":272},{"p":2,"s":"PdPSe-3NO","k":"s","E":0.11,"v":472},{"p":2,"s":"PdPSe-3NO","k":"s","E":0.15,"v":322},{"p":2,"s":"PdPSe-3NO","k":"s","E":0.19,"v":372},{"p":2,"s":"PdPSe-3NO","k":"s","E":0.23,"v":302},{"p":2,"s":"PdPSe-3NO","k":"s","E":0.27,"v":262},{"p":2,"s":"PdPSe-3NO","k":"s","E":0.31,"v":222},{"p":2,"s":"PdPSe-3NO","k":"s","E":0.41,"v":199},{"p":2,"s":"PdPSe-3NO","k":"s","E":0.48,"v":185},{"p":2,"s":"PdPSe-3NO","k":"s","E":0.55,"v":170},{"p":2,"s":"PdPSe-3NO","k":"s","E":0.66,"v":165},{"p":2,"s":"PdPSe-3NO","k":"s","E":0.77,"v":170},{"p":2,"s":"PdPSe-3NO","k":"s","E":0.89,"v":174},{"p":2,"s":"PdPSe-3NO","k":"s","E":1.02,"v":179},{"p":2,"s":"PdPSe-3NO","k":"s","E":1.11,"v":175},{"p":2,"s":"PdPSe-3NO","k":"s","E":1.24,"v":180},{"p":2,"s":"PdPSe-3NO","k":"s","E":1.34,"v":189},{"p":2,"s":"PdPSe-3NO","k":"s","E":1.43,"v":192},{"p":2,"s":"PdPSe-3NO","k":"s","E":1.54,"v":192},{"p":2,"s":"PdPSe-3NO","k":"s","E":1.61,"v":197},{"p":2,"s":"PdPSe-3NO","k":"s","E":1.71,"v":204},{"p":2,"s":"PdPSe-3NO","k":"s","E":1.79,"v":215},{"p":2,"s":"PdPSe-3NO","k":"s","E":1.91,"v":232},{"p":2,"s":"PdPSe-3NO","k":"s","E":1.98,"v":225},{"p":2,"s":"PdPSe-3NO","k":"s","E":2.06,"v":224},{"p":2,"s":"PdPSe-3NO","k":"s","E":2.13,"v":219},{"p":2,"s":"PdPSe-3NO","k":"s","E":2.23,"v":217},{"p":2,"s":"PdPSe-3NO","k":"s","E":2.33,"v":215},{"p":2,"s":"PdPSe-3NO","k":"s","E":2.43,"v":205},{"p":2,"s":"PdPSe-3NO","k":"s","E":2.53,"v":200},{"p":2,"s":"PdPSe-3NO","k":"s","E":2.61,"v":197},{"p":2,"s":"PdPSe-3NO","k":"s","E":2.74,"v":192},{"p":2,"s":"PdPSe-3NO","k":"s","E":2.94,"v":190},{"p":2,"s":"PdPSe-3NO","k":"s","E":3.11,"v":189},{"p":2,"s":"PdPSe-3NO","k":"s","E":3.21,"v":187},{"p":2,"s":"PdPSe-3NO","k":"s","E":3.39,"v":192},{"p":2,"s":"PdPSe-3NO","k":"s","E":3.56,"v":189},{"p":2,"s":"PdPSe-3NO","k":"s","E":3.75,"v":185},{"p":2,"s":"PdPSe-3NO","k":"s","E":4.00,"v":180},

{"p":2,"s":"PdPSe-3NO","k":"d","E":0,"v":142},{"p":2,"s":"PdPSe-3NO","k":"d","E":0.04,"v":472},{"p":2,"s":"PdPSe-3NO","k":"d","E":0.08,"v":302},{"p":2,"s":"PdPSe-3NO","k":"d","E":0.12,"v":472},{"p":2,"s":"PdPSe-3NO","k":"d","E":0.18,"v":332},{"p":2,"s":"PdPSe-3NO","k":"d","E":0.23,"v":392},{"p":2,"s":"PdPSe-3NO","k":"d","E":0.29,"v":242},{"p":2,"s":"PdPSe-3NO","k":"d","E":0.34,"v":212},{"p":2,"s":"PdPSe-3NO","k":"d","E":0.42,"v":192},{"p":2,"s":"PdPSe-3NO","k":"d","E":0.52,"v":175},{"p":2,"s":"PdPSe-3NO","k":"d","E":0.66,"v":169},{"p":2,"s":"PdPSe-3NO","k":"d","E":0.83,"v":172},{"p":2,"s":"PdPSe-3NO","k":"d","E":1.02,"v":170},{"p":2,"s":"PdPSe-3NO","k":"d","E":1.20,"v":175},{"p":2,"s":"PdPSe-3NO","k":"d","E":1.38,"v":184},{"p":2,"s":"PdPSe-3NO","k":"d","E":1.57,"v":194},{"p":2,"s":"PdPSe-3NO","k":"d","E":1.75,"v":207},{"p":2,"s":"PdPSe-3NO","k":"d","E":1.88,"v":219},{"p":2,"s":"PdPSe-3NO","k":"d","E":1.98,"v":222},{"p":2,"s":"PdPSe-3NO","k":"d","E":2.05,"v":232},{"p":2,"s":"PdPSe-3NO","k":"d","E":2.16,"v":229},{"p":2,"s":"PdPSe-3NO","k":"d","E":2.25,"v":220},{"p":2,"s":"PdPSe-3NO","k":"d","E":2.39,"v":205},{"p":2,"s":"PdPSe-3NO","k":"d","E":2.53,"v":217},{"p":2,"s":"PdPSe-3NO","k":"d","E":2.61,"v":205},{"p":2,"s":"PdPSe-3NO","k":"d","E":2.70,"v":197},{"p":2,"s":"PdPSe-3NO","k":"d","E":2.84,"v":200},{"p":2,"s":"PdPSe-3NO","k":"d","E":2.98,"v":200},{"p":2,"s":"PdPSe-3NO","k":"d","E":3.11,"v":199},{"p":2,"s":"PdPSe-3NO","k":"d","E":3.21,"v":205},{"p":2,"s":"PdPSe-3NO","k":"d","E":3.29,"v":195},{"p":2,"s":"PdPSe-3NO","k":"d","E":3.43,"v":192},{"p":2,"s":"PdPSe-3NO","k":"d","E":3.62,"v":189},{"p":2,"s":"PdPSe-3NO","k":"d","E":3.79,"v":185},{"p":2,"s":"PdPSe-3NO","k":"d","E":4.00,"v":182},

{"p":2,"s":"PdPSe-4NO","k":"s","E":0,"v":222},{"p":2,"s":"PdPSe-4NO","k":"s","E":0.04,"v":472},{"p":2,"s":"PdPSe-4NO","k":"s","E":0.10,"v":372},{"p":2,"s":"PdPSe-4NO","k":"s","E":0.14,"v":472},{"p":2,"s":"PdPSe-4NO","k":"s","E":0.18,"v":365},{"p":2,"s":"PdPSe-4NO","k":"s","E":0.22,"v":355},{"p":2,"s":"PdPSe-4NO","k":"s","E":0.26,"v":292},{"p":2,"s":"PdPSe-4NO","k":"s","E":0.29,"v":289},{"p":2,"s":"PdPSe-4NO","k":"s","E":0.31,"v":322},{"p":2,"s":"PdPSe-4NO","k":"s","E":0.36,"v":292},{"p":2,"s":"PdPSe-4NO","k":"s","E":0.41,"v":272},{"p":2,"s":"PdPSe-4NO","k":"s","E":0.48,"v":242},{"p":2,"s":"PdPSe-4NO","k":"s","E":0.55,"v":229},{"p":2,"s":"PdPSe-4NO","k":"s","E":0.66,"v":222},{"p":2,"s":"PdPSe-4NO","k":"s","E":0.77,"v":230},{"p":2,"s":"PdPSe-4NO","k":"s","E":0.89,"v":229},{"p":2,"s":"PdPSe-4NO","k":"s","E":0.97,"v":232},{"p":2,"s":"PdPSe-4NO","k":"s","E":1.11,"v":234},{"p":2,"s":"PdPSe-4NO","k":"s","E":1.24,"v":235},{"p":2,"s":"PdPSe-4NO","k":"s","E":1.38,"v":240},{"p":2,"s":"PdPSe-4NO","k":"s","E":1.52,"v":249},{"p":2,"s":"PdPSe-4NO","k":"s","E":1.65,"v":259},{"p":2,"s":"PdPSe-4NO","k":"s","E":1.79,"v":275},{"p":2,"s":"PdPSe-4NO","k":"s","E":1.86,"v":279},{"p":2,"s":"PdPSe-4NO","k":"s","E":1.91,"v":290},{"p":2,"s":"PdPSe-4NO","k":"s","E":1.98,"v":285},{"p":2,"s":"PdPSe-4NO","k":"s","E":2.05,"v":275},{"p":2,"s":"PdPSe-4NO","k":"s","E":2.12,"v":279},{"p":2,"s":"PdPSe-4NO","k":"s","E":2.20,"v":269},{"p":2,"s":"PdPSe-4NO","k":"s","E":2.29,"v":264},{"p":2,"s":"PdPSe-4NO","k":"s","E":2.39,"v":264},{"p":2,"s":"PdPSe-4NO","k":"s","E":2.47,"v":255},{"p":2,"s":"PdPSe-4NO","k":"s","E":2.57,"v":249},{"p":2,"s":"PdPSe-4NO","k":"s","E":2.70,"v":247},{"p":2,"s":"PdPSe-4NO","k":"s","E":2.88,"v":245},{"p":2,"s":"PdPSe-4NO","k":"s","E":3.02,"v":240},{"p":2,"s":"PdPSe-4NO","k":"s","E":3.15,"v":240},{"p":2,"s":"PdPSe-4NO","k":"s","E":3.35,"v":244},{"p":2,"s":"PdPSe-4NO","k":"s","E":3.48,"v":244},{"p":2,"s":"PdPSe-4NO","k":"s","E":3.66,"v":240},{"p":2,"s":"PdPSe-4NO","k":"s","E":3.84,"v":239},{"p":2,"s":"PdPSe-4NO","k":"s","E":4.00,"v":234},

{"p":2,"s":"PdPSe-4NO","k":"d","E":0,"v":172},{"p":2,"s":"PdPSe-4NO","k":"d","E":0.04,"v":472},{"p":2,"s":"PdPSe-4NO","k":"d","E":0.11,"v":472},{"p":2,"s":"PdPSe-4NO","k":"d","E":0.18,"v":382},{"p":2,"s":"PdPSe-4NO","k":"d","E":0.25,"v":362},{"p":2,"s":"PdPSe-4NO","k":"d","E":0.31,"v":352},{"p":2,"s":"PdPSe-4NO","k":"d","E":0.36,"v":362},{"p":2,"s":"PdPSe-4NO","k":"d","E":0.40,"v":339},{"p":2,"s":"PdPSe-4NO","k":"d","E":0.42,"v":292},{"p":2,"s":"PdPSe-4NO","k":"d","E":0.46,"v":257},{"p":2,"s":"PdPSe-4NO","k":"d","E":0.50,"v":230},{"p":2,"s":"PdPSe-4NO","k":"d","E":0.56,"v":225},{"p":2,"s":"PdPSe-4NO","k":"d","E":0.75,"v":227},{"p":2,"s":"PdPSe-4NO","k":"d","E":0.93,"v":229},{"p":2,"s":"PdPSe-4NO","k":"d","E":1.11,"v":230},{"p":2,"s":"PdPSe-4NO","k":"d","E":1.30,"v":232},{"p":2,"s":"PdPSe-4NO","k":"d","E":1.47,"v":240},{"p":2,"s":"PdPSe-4NO","k":"d","E":1.65,"v":252},{"p":2,"s":"PdPSe-4NO","k":"d","E":1.84,"v":265},{"p":2,"s":"PdPSe-4NO","k":"d","E":1.98,"v":275},{"p":2,"s":"PdPSe-4NO","k":"d","E":2.06,"v":265},{"p":2,"s":"PdPSe-4NO","k":"d","E":2.13,"v":287},{"p":2,"s":"PdPSe-4NO","k":"d","E":2.20,"v":272},{"p":2,"s":"PdPSe-4NO","k":"d","E":2.33,"v":262},{"p":2,"s":"PdPSe-4NO","k":"d","E":2.47,"v":260},{"p":2,"s":"PdPSe-4NO","k":"d","E":2.57,"v":270},{"p":2,"s":"PdPSe-4NO","k":"d","E":2.66,"v":254},{"p":2,"s":"PdPSe-4NO","k":"d","E":2.80,"v":250},{"p":2,"s":"PdPSe-4NO","k":"d","E":2.98,"v":255},{"p":2,"s":"PdPSe-4NO","k":"d","E":3.11,"v":254},{"p":2,"s":"PdPSe-4NO","k":"d","E":3.21,"v":255},{"p":2,"s":"PdPSe-4NO","k":"d","E":3.35,"v":247},{"p":2,"s":"PdPSe-4NO","k":"d","E":3.52,"v":242},{"p":2,"s":"PdPSe-4NO","k":"d","E":3.70,"v":240},{"p":2,"s":"PdPSe-4NO","k":"d","E":3.89,"v":235},{"p":2,"s":"PdPSe-4NO","k":"d","E":4.00,"v":234},

{"p":2,"s":"PdPSe-5NO","k":"s","E":0,"v":472},{"p":2,"s":"PdPSe-5NO","k":"s","E":0.18,"v":472},{"p":2,"s":"PdPSe-5NO","k":"s","E":0.25,"v":422},{"p":2,"s":"PdPSe-5NO","k":"s","E":0.29,"v":402},{"p":2,"s":"PdPSe-5NO","k":"s","E":0.31,"v":382},{"p":2,"s":"PdPSe-5NO","k":"s","E":0.36,"v":339},{"p":2,"s":"PdPSe-5NO","k":"s","E":0.41,"v":309},{"p":2,"s":"PdPSe-5NO","k":"s","E":0.48,"v":304},{"p":2,"s":"PdPSe-5NO","k":"s","E":0.56,"v":292},{"p":2,"s":"PdPSe-5NO","k":"s","E":0.66,"v":279},{"p":2,"s":"PdPSe-5NO","k":"s","E":0.72,"v":289},{"p":2,"s":"PdPSe-5NO","k":"s","E":0.79,"v":282},{"p":2,"s":"PdPSe-5NO","k":"s","E":0.89,"v":289},{"p":2,"s":"PdPSe-5NO","k":"s","E":0.97,"v":297},{"p":2,"s":"PdPSe-5NO","k":"s","E":1.07,"v":289},{"p":2,"s":"PdPSe-5NO","k":"s","E":1.20,"v":285},{"p":2,"s":"PdPSe-5NO","k":"s","E":1.34,"v":290},{"p":2,"s":"PdPSe-5NO","k":"s","E":1.47,"v":295},{"p":2,"s":"PdPSe-5NO","k":"s","E":1.58,"v":304},{"p":2,"s":"PdPSe-5NO","k":"s","E":1.68,"v":307},{"p":2,"s":"PdPSe-5NO","k":"s","E":1.75,"v":322},{"p":2,"s":"PdPSe-5NO","k":"s","E":1.82,"v":339},{"p":2,"s":"PdPSe-5NO","k":"s","E":1.88,"v":334},{"p":2,"s":"PdPSe-5NO","k":"s","E":1.98,"v":330},{"p":2,"s":"PdPSe-5NO","k":"s","E":2.06,"v":325},{"p":2,"s":"PdPSe-5NO","k":"s","E":2.16,"v":325},{"p":2,"s":"PdPSe-5NO","k":"s","E":2.29,"v":317},{"p":2,"s":"PdPSe-5NO","k":"s","E":2.43,"v":310},{"p":2,"s":"PdPSe-5NO","k":"s","E":2.57,"v":307},{"p":2,"s":"PdPSe-5NO","k":"s","E":2.70,"v":300},{"p":2,"s":"PdPSe-5NO","k":"s","E":2.84,"v":299},{"p":2,"s":"PdPSe-5NO","k":"s","E":2.98,"v":295},{"p":2,"s":"PdPSe-5NO","k":"s","E":3.15,"v":294},{"p":2,"s":"PdPSe-5NO","k":"s","E":3.35,"v":295},{"p":2,"s":"PdPSe-5NO","k":"s","E":3.48,"v":297},{"p":2,"s":"PdPSe-5NO","k":"s","E":3.66,"v":294},{"p":2,"s":"PdPSe-5NO","k":"s","E":3.84,"v":292},{"p":2,"s":"PdPSe-5NO","k":"s","E":4.00,"v":289},

{"p":2,"s":"PdPSe-5NO","k":"d","E":0,"v":472},{"p":2,"s":"PdPSe-5NO","k":"d","E":0.25,"v":472},{"p":2,"s":"PdPSe-5NO","k":"d","E":0.29,"v":395},{"p":2,"s":"PdPSe-5NO","k":"d","E":0.38,"v":355},{"p":2,"s":"PdPSe-5NO","k":"d","E":0.42,"v":319},{"p":2,"s":"PdPSe-5NO","k":"d","E":0.52,"v":299},{"p":2,"s":"PdPSe-5NO","k":"d","E":0.61,"v":289},{"p":2,"s":"PdPSe-5NO","k":"d","E":0.70,"v":284},{"p":2,"s":"PdPSe-5NO","k":"d","E":0.79,"v":282},{"p":2,"s":"PdPSe-5NO","k":"d","E":0.93,"v":285},{"p":2,"s":"PdPSe-5NO","k":"d","E":1.07,"v":287},{"p":2,"s":"PdPSe-5NO","k":"d","E":1.24,"v":289},{"p":2,"s":"PdPSe-5NO","k":"d","E":1.38,"v":290},{"p":2,"s":"PdPSe-5NO","k":"d","E":1.52,"v":295},{"p":2,"s":"PdPSe-5NO","k":"d","E":1.65,"v":302},{"p":2,"s":"PdPSe-5NO","k":"d","E":1.79,"v":312},{"p":2,"s":"PdPSe-5NO","k":"d","E":1.93,"v":322},{"p":2,"s":"PdPSe-5NO","k":"d","E":2.06,"v":334},{"p":2,"s":"PdPSe-5NO","k":"d","E":2.13,"v":335},{"p":2,"s":"PdPSe-5NO","k":"d","E":2.20,"v":332},{"p":2,"s":"PdPSe-5NO","k":"d","E":2.33,"v":319},{"p":2,"s":"PdPSe-5NO","k":"d","E":2.47,"v":315},{"p":2,"s":"PdPSe-5NO","k":"d","E":2.57,"v":320},{"p":2,"s":"PdPSe-5NO","k":"d","E":2.66,"v":309},{"p":2,"s":"PdPSe-5NO","k":"d","E":2.80,"v":302},{"p":2,"s":"PdPSe-5NO","k":"d","E":2.94,"v":307},{"p":2,"s":"PdPSe-5NO","k":"d","E":3.11,"v":309},{"p":2,"s":"PdPSe-5NO","k":"d","E":3.25,"v":304},{"p":2,"s":"PdPSe-5NO","k":"d","E":3.43,"v":299},{"p":2,"s":"PdPSe-5NO","k":"d","E":3.62,"v":295},{"p":2,"s":"PdPSe-5NO","k":"d","E":3.79,"v":290},{"p":2,"s":"PdPSe-5NO","k":"d","E":4.00,"v":287}
]
},
"data": {"name": "d"},
"resolve": {"scale": {"color": "shared"}},
"hconcat": [
{
"width": 293, "height": 422,
"layer": [
{
"transform": [{"filter": "datum.p == 1 && datum.k == 's'"}],
"mark": {"type": "line", "strokeWidth": 2, "clip": true},
"encoding": {
"x": {"field": "E", "type": "quantitative", "scale": {"domain": [0, 4], "nice": false, "zero": false},
"axis": {"values": [0, 2, 4], "format": "d", "grid": false, "tickSize": 6, "tickColor": "#000", "domainColor": "#000", "labelFontSize": 26, "labelColor": "#000", "labelPadding": 4, "title": "Eₚₕₒₜₒₙ(eV)", "titleFontSize": 26, "titleFontWeight": "normal", "titleColor": "#000", "titlePadding": 6}},
"y": {"field": "v", "type": "quantitative", "scale": {"domain": [0, 422], "nice": false, "zero": false},
"axis": {"labels": false, "ticks": false, "grid": false, "domainColor": "#000", "title": "ε₁", "titleFontSize": 26, "titleFontWeight": "normal", "titleColor": "#000", "titlePadding": 13}},
"color": {"field": "s", "type": "nominal",
"scale": {"domain": ["PdPSe-1NO", "PdPSe-2NO", "PdPSe-3NO", "PdPSe-4NO", "PdPSe-5NO"], "range": ["#000000", "#ff0000", "#0000ff", "#008000", "#00ffff"]},
"legend": {"title": null, "orient": "none", "legendX": 682, "legendY": 138, "symbolType": "M-1.5,0H1.5", "symbolSize": 576, "symbolStrokeWidth": 2.5, "symbolOffset": 2, "labelFontSize": 17, "labelColor": "#000", "labelOffset": 15, "rowPadding": 3, "padding": 9, "strokeColor": "#cccccc", "fillColor": "#ffffff", "cornerRadius": 4}}
}
},
{
"transform": [{"filter": "datum.p == 1 && datum.k == 'd'"}],
"mark": {"type": "line", "strokeWidth": 2, "color": "#000000", "strokeDash": [7, 3.5], "clip": true},
"encoding": {
"x": {"field": "E", "type": "quantitative"},
"y": {"field": "v", "type": "quantitative"},
"detail": {"field": "s"}
}
},
{
"mark": {"type": "rule", "color": "#000000", "strokeWidth": 1},
"encoding": {"x": {"datum": 4}}
}
]
},
{
"width": 293, "height": 422,
"layer": [
{
"transform": [{"filter": "datum.p == 2 && datum.k == 's'"}],
"mark": {"type": "line", "strokeWidth": 2, "clip": true},
"encoding": {
"x": {"field": "E", "type": "quantitative", "scale": {"domain": [0, 4], "nice": false, "zero": false},
"axis": {"values": [0, 2, 4], "format": "d", "grid": false, "tickSize": 6, "tickColor": "#000", "domainColor": "#000", "labelFontSize": 26, "labelColor": "#000", "labelPadding": 4, "title": "Eₚₕₒₜₒₙ(eV)", "titleFontSize": 26, "titleFontWeight": "normal", "titleColor": "#000", "titlePadding": 6}},
"y": {"field": "v", "type": "quantitative", "scale": {"domain": [0, 422], "nice": false, "zero": false},
"axis": {"labels": false, "ticks": false, "grid": false, "domainColor": "#000", "title": "ε₂", "titleFontSize": 26, "titleFontWeight": "normal", "titleColor": "#000", "titlePadding": 13}},
"color": {"field": "s", "type": "nominal"}
}
},
{
"transform": [{"filter": "datum.p == 2 && datum.k == 'd'"}],
"mark": {"type": "line", "strokeWidth": 2, "color": "#000000", "strokeDash": [7, 3.5], "clip": true},
"encoding": {
"x": {"field": "E", "type": "quantitative"},
"y": {"field": "v", "type": "quantitative"},
"detail": {"field": "s"}
}
},
{
"mark": {"type": "rule", "color": "#000000", "strokeWidth": 1},
"encoding": {"x": {"datum": 4}}
}
]
}
]
}
